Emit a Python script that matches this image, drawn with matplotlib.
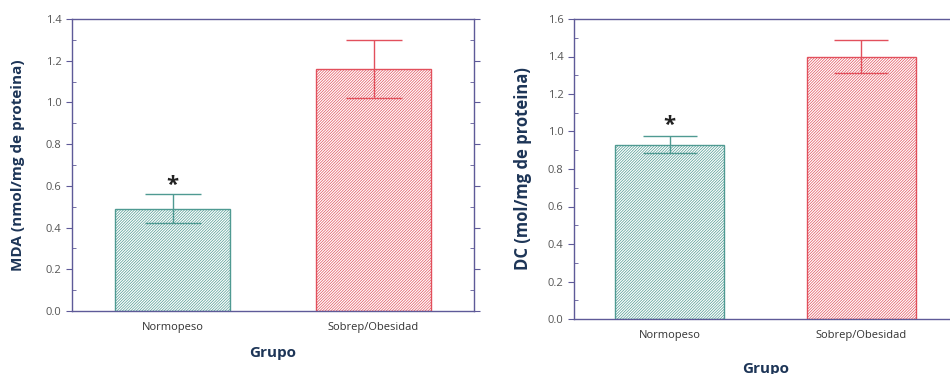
import matplotlib
matplotlib.use('Agg')
import matplotlib.pyplot as plt
from matplotlib.ticker import MultipleLocator

groups = ['Normopeso', 'Sobrep/Obesidad']
mda_mean = [0.49, 1.16]
mda_err = [0.07, 0.14]
dc_mean = [0.93, 1.40]
dc_err = [0.045, 0.09]

colors = ['#4f9a92', '#e2505c']
spine_color = '#5e5a98'
label_color = '#1d3557'

plt.rcParams['font.family'] = ['Open Sans', 'DejaVu Sans']
plt.rcParams['hatch.linewidth'] = 0.5

fig = plt.figure(figsize=(9.5, 3.74), dpi=100)
W, H = 950, 374


def add_ax(x0, y_top, x1, y_bot):
    return fig.add_axes([x0 / W, 1 - y_bot / H, (x1 - x0) / W, (y_bot - y_top) / H])


def panel(ax, means, errs, ymax, ylabel, star_y, capsize, lab_size, xlab_pad):
    x = list(range(len(groups)))
    for i in x:
        ax.bar(i, means[i], width=0.57, facecolor='white', edgecolor=colors[i],
               hatch='////////////', linewidth=1.0, zorder=2)
        ax.errorbar(i, means[i], yerr=errs[i], color=colors[i], capsize=capsize,
                    elinewidth=1.0, capthick=1.0, zorder=3)
    ax.text(0, star_y, '*', ha='center', va='center', fontsize=16,
            fontweight='bold', color='#222222')
    ax.set_xlim(-0.5, 1.5)
    ax.set_ylim(0, ymax)
    ax.set_xticks(x)
    ax.set_xticklabels(groups, fontsize=8, color='#333333')
    ax.tick_params(axis='x', length=0, pad=8)
    ax.yaxis.set_major_locator(MultipleLocator(0.2))
    ax.yaxis.set_minor_locator(MultipleLocator(0.1))
    ax.yaxis.set_major_formatter(plt.FuncFormatter(lambda v, p: f'{v:.1f}'))
    ax.tick_params(axis='y', which='major', direction='out', length=4, labelsize=8,
                   labelcolor='#555555', color=spine_color, right=True)
    ax.tick_params(axis='y', which='minor', direction='in', length=3,
                   color=spine_color, right=True)
    for s in ax.spines.values():
        s.set_color(spine_color)
        s.set_linewidth(1.0)
    ax.set_ylabel(ylabel, fontsize=lab_size, fontweight='bold', color=label_color)
    ax.set_xlabel('Grupo', fontsize=11, fontweight='bold', color=label_color, labelpad=xlab_pad)


ax1 = add_ax(72, 19, 474, 311)
panel(ax1, mda_mean, mda_err, 1.4, 'MDA (nmol/mg de proteina)', 0.60, 20, 11, 9)
ax1.yaxis.set_label_coords(-0.117, 0.5)

ax2 = add_ax(574, 19, 957, 319)
panel(ax2, dc_mean, dc_err, 1.6, 'DC (mol/mg de proteina)', 1.03, 19.5, 12, 15)
ax2.yaxis.set_label_coords(-0.11, 0.5)

fig.savefig('out.png', dpi=100, facecolor='white')
